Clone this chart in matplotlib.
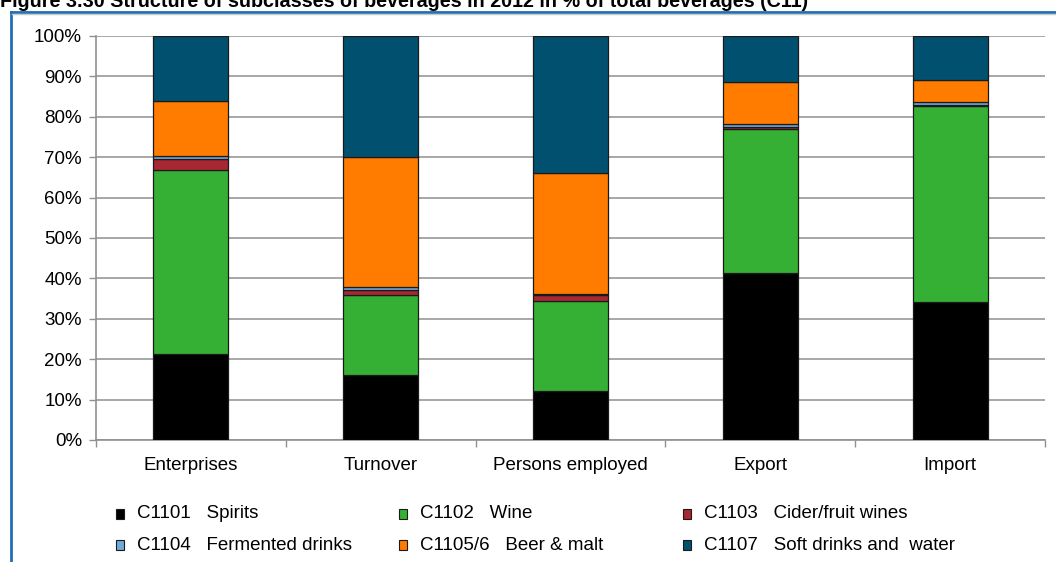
import matplotlib
matplotlib.use('Agg')
import matplotlib.pyplot as plt
from matplotlib.patches import Rectangle
from matplotlib.lines import Line2D
import numpy as np

plt.rcParams['font.family'] = ['Liberation Sans', 'DejaVu Sans']

# Categories and shares (% of total beverages)
categories = ['Enterprises', 'Turnover', 'Persons employed', 'Export', 'Import']
spirits = [21.2, 16.0, 12.2, 41.3, 34.1]
wine = [45.7, 20.0, 22.3, 35.6, 48.5]
cider = [2.7, 1.2, 1.3, 0.6, 0.4]
fermented = [0.8, 0.7, 0.4, 0.7, 0.6]
beer = [13.4, 32.2, 29.9, 10.5, 5.6]
soft = [16.2, 29.9, 33.9, 11.3, 10.8]

series_names = ['C1101   Spirits', 'C1102   Wine', 'C1103   Cider/fruit wines',
                'C1104   Fermented drinks', 'C1105/6   Beer & malt',
                'C1107   Soft drinks and  water']
series_values = [spirits, wine, cider, fermented, beer, soft]
colors = ['#000000', '#36B034', '#A72832', '#72A9DB', '#FF7C00', '#02506F']

title = 'Figure 3.30 Structure of subclasses of beverages in 2012 in % of total beverages (C11)'

fig = plt.figure(figsize=(10.56, 5.62), dpi=100)
ax = fig.add_axes([96 / 1056, 1 - 440 / 562, (1045 - 96) / 1056, (440 - 36) / 562])

x = np.arange(len(categories))
bottom = np.zeros(len(categories))
for vals, col in zip(series_values, colors):
    ax.bar(x, vals, bottom=bottom, width=0.395, color=col,
           edgecolor='#1a1a1a', linewidth=0.9, zorder=3)
    bottom += np.array(vals)

ax.set_xlim(-0.5, len(categories) - 0.5)
ax.set_ylim(0, 100)
ax.set_yticks(np.arange(0, 101, 10))
ax.set_yticklabels([f'{v}%' for v in range(0, 101, 10)], fontsize=13.5)
ax.set_xticks(x)
ax.set_xticklabels(categories, fontsize=13.5)
ax.set_xticks(np.arange(-0.5, len(categories), 1), minor=True)
ax.tick_params(axis='x', which='major', length=0, pad=12)
ax.tick_params(axis='x', which='minor', length=5, color='#909090', width=1)
ax.tick_params(axis='y', length=5, color='#909090', width=1, pad=5)
ax.grid(axis='y', color='#A0A0A0', linewidth=1.3, zorder=0)
ax.set_axisbelow(True)
for side in ['top', 'right']:
    ax.spines[side].set_visible(False)
for side in ['left', 'bottom']:
    ax.spines[side].set_color('#909090')
    ax.spines[side].set_linewidth(1.2)

# Legend: 2 rows x 3 columns, laid out by hand
col_x = [120, 403, 687]
row_y = [514, 545]
for i, (name, col) in enumerate(zip(series_names, colors)):
    r, c = divmod(i, 3)
    px, py = col_x[c], row_y[r]
    fig.patches.append(Rectangle(((px - 4) / 1056, 1 - (py + 5) / 562), 8 / 1056, 10 / 562,
                                 transform=fig.transFigure, facecolor=col,
                                 edgecolor='#1a1a1a', linewidth=0.8))
    fig.text((px + 17) / 1056, 1 - py / 562, name, fontsize=13.5, va='center', ha='left')

# Title, clipped at the top as in the source
fig.text(0, 1 - 7 / 562, title, fontsize=14.2, fontweight='bold', ha='left', va='baseline')

# Blue frame around the chart (report layout)
fig.add_artist(Line2D([10.5 / 1056, 10.5 / 1056], [0, 1 - 12 / 562],
                      transform=fig.transFigure, color='#1F6FB5', linewidth=2))
fig.add_artist(Line2D([10.5 / 1056, 1], [1 - 12 / 562, 1 - 12 / 562],
                      transform=fig.transFigure, color='#1F6FB5', linewidth=2))
fig.add_artist(Line2D([12 / 1056, 1], [1 - 14 / 562, 1 - 14 / 562],
                      transform=fig.transFigure, color='#C8C8C8', linewidth=1))

fig.savefig('out.png', dpi=100)
